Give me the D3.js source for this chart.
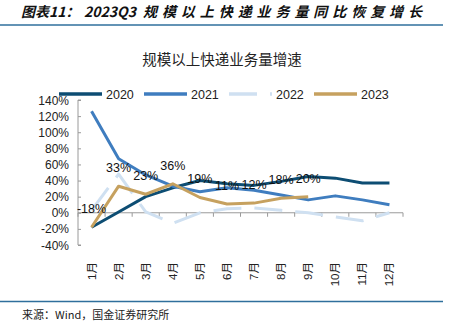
<!DOCTYPE html>
<html>
<head>
<meta charset="utf-8">
<script src="https://cdn.jsdelivr.net/npm/d3@7"></script>
<style>
	body { margin: 0; background: #fff; }
	svg { display: block; font-family: "Liberation Sans", Arial, "Noto Sans CJK SC", sans-serif; }
</style>
</head>
<body>
<div id="chart"></div>
<script>
var months = ["1月","2月","3月","4月","5月","6月","7月","8月","9月","10月","11月","12月"]
var yTicks = [-40, -20, 0, 20, 40, 60, 80, 100, 120, 140]

var s2020 = [-18, 1, 20, 31, 40, 36, 34, 39, 45, 43, 37, 37]
var s2021 = [126, 67, 47, 33, 26, 31, 28, 22, 16, 21, 16, 10]
var s2022 = [3, 48, 1, -13, 0, 5, 6, 3, 0, -5, -10, 0]
var s2023 = [-18, 33, 23, 36, 19, 11, 12, 18, 20]

var seriesNames = ["2020", "2021", "2022", "2023"]

var w = 455,
	h = 332,
	plotLeft = 78,
	plotRight = 403,
	plotTop = 100,
	plotBottom = 245;

var cNavy  = "#0d4d73",
	cBlue  = "#3f7dbf",
	cLight = "#cfe0f1",
	cGold  = "#c6a15f",
	cAxis  = "#9a9a9a",
	cRule  = "#2f6f9c";

var series = [
	{name: seriesNames[0], values: s2020, color: cNavy,  dash: null},
	{name: seriesNames[1], values: s2021, color: cBlue,  dash: null},
	{name: seriesNames[2], values: s2022, color: cLight, dash: "28,13"},
	{name: seriesNames[3], values: s2023, color: cGold,  dash: null}
]

var svg = d3.select("#chart")
	.append("svg")
	.attr("width", w)
	.attr("height", h)

// report title, pieces placed separately (CJK part is spaced wide)
var title = svg.append("text")
	.attr("y", 17)
	.attr("font-family", "'Noto Sans CJK SC', sans-serif")
	.attr("font-size", 14)
	.attr("font-weight", "bold")
	.attr("font-style", "italic")
	.attr("fill", "#111")
title.append("tspan").attr("x", 21).text("图表11：")
title.append("tspan").attr("x", 84).text("2023Q3")
title.append("tspan")
	.attr("x", 143)
	.attr("textLength", 279)
	.attr("lengthAdjust", "spacing")
	.text("规模以上快递业务量同比恢复增长")

svg.append("line")
	.attr("x1", 0).attr("x2", 443)
	.attr("y1", 25).attr("y2", 25)
	.attr("stroke", cRule)
	.attr("stroke-width", 1.5)

svg.append("line")
	.attr("x1", 0).attr("x2", 443)
	.attr("y1", 301.5).attr("y2", 301.5)
	.attr("stroke", cRule)
	.attr("stroke-width", 1.5)

svg.append("text")
	.attr("x", 22)
	.attr("y", 319)
	.attr("font-family", "'Noto Sans CJK SC', sans-serif")
	.attr("font-size", 11)
	.attr("fill", "#222")
	.text("来源：Wind，国金证券研究所")

// chart title
svg.append("text")
	.attr("x", 222)
	.attr("y", 65)
	.attr("text-anchor", "middle")
	.attr("font-family", "'Noto Sans CJK SC', sans-serif")
	.attr("font-size", 14.5)
	.attr("fill", "#222")
	.text("规模以上快递业务量增速")

var x = d3.scaleBand()
	.domain(months)
	.range([plotLeft, plotRight])

var y = d3.scaleLinear()
	.domain([-40, 140])
	.range([plotBottom, plotTop])

function xPos(i) { return x(months[i]) + x.bandwidth() / 2 }

// y axis
var yAxis = svg.append("g")
	.attr("transform", "translate(" + plotLeft + ",0)")
	.call(d3.axisRight(y).tickValues(yTicks).tickSize(3).tickFormat(""))
yAxis.selectAll("path, line").attr("stroke", cAxis)
yAxis.select(".domain").attr("d", "M3," + plotTop + "H0V" + plotBottom + "H3")

svg.selectAll(".yLabel")
	.data(yTicks)
	.enter()
	.append("text")
	.attr("class", "yLabel")
	.attr("x", 69)
	.attr("y", function(d){ return y(d) + 4.5 })
	.attr("text-anchor", "end")
	.attr("font-size", 12)
	.attr("fill", "#222")
	.text(function(d){ return d + "%" })

// x axis on zero line, ticks between categories
var boundaries = months.map(function(m){ return x(m) }).concat([plotRight])
svg.append("line")
	.attr("x1", plotLeft).attr("x2", plotRight)
	.attr("y1", y(0)).attr("y2", y(0))
	.attr("stroke", cAxis)
svg.selectAll(".xTick")
	.data(boundaries)
	.enter()
	.append("line")
	.attr("class", "xTick")
	.attr("x1", function(d){ return d }).attr("x2", function(d){ return d })
	.attr("y1", y(0)).attr("y2", y(0) + 4)
	.attr("stroke", cAxis)

svg.selectAll(".xLabel")
	.data(months)
	.enter()
	.append("text")
	.attr("class", "xLabel")
	.attr("transform", function(d){ return "translate(" + (x(d) + x.bandwidth()/2 + 4) + ",262) rotate(-90)" })
	.attr("text-anchor", "end")
	.attr("font-size", 11.5)
	.attr("fill", "#222")
	.text(function(d){ return d })

// lines
var line = d3.line()
	.x(function(d,i){ return xPos(i) })
	.y(function(d){ return y(d) })

svg.selectAll(".series")
	.data(series)
	.enter()
	.append("path")
	.attr("class", "series")
	.attr("d", function(d){ return line(d.values) })
	.attr("fill", "none")
	.attr("stroke", function(d){ return d.color })
	.attr("stroke-width", 3)
	.attr("stroke-linejoin", "round")
	.attr("stroke-dasharray", function(d){ return d.dash })

// 2023 data labels
svg.selectAll(".valLabel")
	.data(s2023)
	.enter()
	.append("text")
	.attr("class", "valLabel")
	.attr("x", function(d,i){ return xPos(i) })
	.attr("y", function(d){ return y(d) - 14 })
	.attr("text-anchor", "middle")
	.attr("font-size", 12.5)
	.attr("fill", "#111")
	.text(function(d){ return d + "%" })

// legend
var legend = svg.selectAll(".legend")
	.data(series)
	.enter()
	.append("g")
	.attr("class", "legend")
	.attr("transform", function(d,i){ return "translate(" + (59 + i*85) + ",94)" })

legend.append("line")
	.attr("x1", 0).attr("x2", 43)
	.attr("stroke", function(d){ return d.color })
	.attr("stroke-width", 3.5)
	.attr("stroke-dasharray", function(d){ return d.dash })

legend.append("text")
	.attr("x", 47)
	.attr("y", 4.5)
	.attr("font-size", 12.5)
	.attr("fill", "#222")
	.text(function(d){ return d.name })
</script>
</body>
</html>
